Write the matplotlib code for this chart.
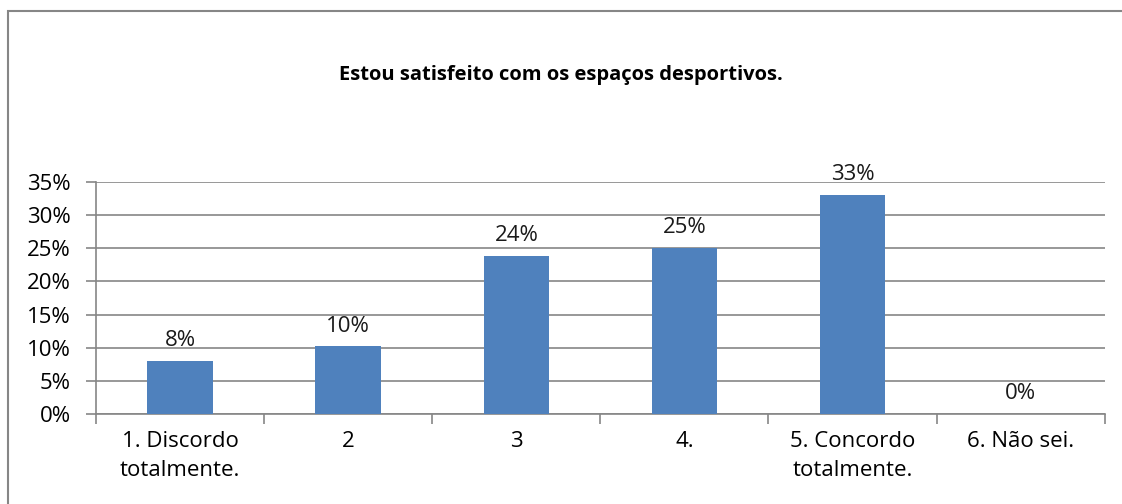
import matplotlib.pyplot as plt
from matplotlib.patches import Rectangle
import numpy as np

categorias = ['1. Discordo\ntotalmente.', '2', '3', '4.', '5. Concordo\ntotalmente.', '6. Não sei.']
valores = [0.080, 0.102, 0.238, 0.250, 0.330, 0.0]
rotulos = ['8%', '10%', '24%', '25%', '33%', '0%']
yticks = [0, 0.05, 0.10, 0.15, 0.20, 0.25, 0.30, 0.35]

plt.rcParams['font.family'] = ['Open Sans', 'DejaVu Sans']

fig = plt.figure(figsize=(11.22, 5.04), dpi=100)
ax = fig.add_axes([0.0856, 0.1786, 0.899, 0.4605])

x = np.arange(len(categorias))
ax.bar(x, valores, width=0.39, color='#4F81BD', zorder=3)

for xi, v, r in zip(x, valores, rotulos):
    ax.annotate(r, (xi, v), xytext=(0, 7), textcoords='offset points',
                ha='center', va='bottom', fontsize=16, color='#1a1a1a')

ax.set_xlim(-0.5, len(categorias) - 0.5)
ax.set_ylim(0, 0.35)
ax.set_yticks(yticks)
ax.set_yticklabels(['%d%%' % round(t * 100) for t in yticks], fontsize=16)
ax.yaxis.grid(True, color='#868686', linewidth=1.2, zorder=0)

ax.set_xticks(x)
ax.set_xticklabels(categorias, fontsize=16, linespacing=1.55)
ax.set_xticks(np.arange(len(categorias) + 1) - 0.5, minor=True)
ax.tick_params(axis='x', which='major', length=0, pad=12)
ax.tick_params(axis='x', which='minor', length=7, color='#868686', width=1.2)
ax.tick_params(axis='y', length=7, color='#868686', width=1.2, pad=11)

for s in ['top', 'right']:
    ax.spines[s].set_visible(False)
for s in ['left', 'bottom']:
    ax.spines[s].set_color('#868686')
    ax.spines[s].set_linewidth(1.2)

fig.text(0.5, 0.851, 'Estou satisfeito com os espaços desportivos.',
         ha='center', va='center', fontsize=14.5, fontweight='bold')

# moldura do gráfico (direita e base ficam fora da imagem)
fig.patches.append(Rectangle((0.0067, -0.05), 1.1, 0.0277 + 1.0, transform=fig.transFigure,
                             fill=False, edgecolor='#868686', linewidth=1.5))

fig.savefig('out.png', dpi=100)
